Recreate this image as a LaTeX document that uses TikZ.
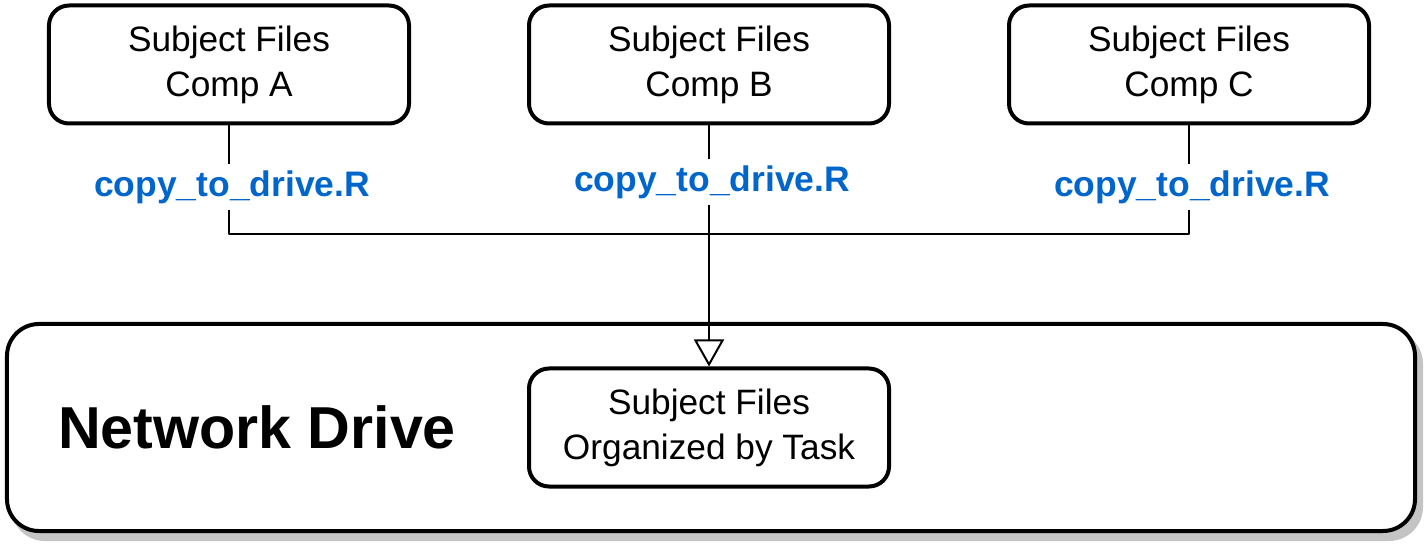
\documentclass[tikz,border=0pt]{standalone}
\usepackage{fontspec}
\setmainfont{Liberation Sans}
\usetikzlibrary{arrows.meta,shadows}
\definecolor{scriptblue}{HTML}{0066CC}
\definecolor{shadowgray}{HTML}{C4C4C4}

\begin{document}
\begin{tikzpicture}[x=0.5bp,y=-0.5bp,>={Triangle[open,length=13.5bp,width=15bp]},line join=round,
    filebox/.style={draw,rectangle,rounded corners=10bp,line width=2bp,fill=white,
      minimum width=180bp,minimum height=59bp,align=center,
      font=\fontsize{17.7}{22.5}\selectfont},
    drivebox/.style={draw,rectangle,rounded corners=16bp,line width=2bp,fill=white,
      minimum width=704bp,minimum height=103.5bp,
      drop shadow={shadow xshift=3bp,shadow yshift=-4bp,fill=shadowgray,draw=shadowgray,line width=2bp,opacity=1}},
    scriptlabel/.style={fill=white,inner sep=3bp,text=scriptblue,
      font=\bfseries\fontsize{17.8}{20}\selectfont},
    link/.style={line width=1bp},
  ]
    \useasboundingbox (0,0) rectangle (1425,546);
    %%
    \node (drive) at (711,427.5) [drivebox] {};
    \node (drivetitle) at (257,427) [font=\bfseries\fontsize{29.7}{34}\selectfont] {Network Drive};
    \node (compA) at (229,64.5) [filebox] {Subject Files\\Comp A};
    \node (compB) at (709,64.5) [filebox] {Subject Files\\Comp B};
    \node (compC) at (1189,64.5) [filebox] {Subject Files\\Comp C};
    \node (tasks) at (709,427.5) [filebox] {Subject Files\\Organized by Task};
    \coordinate (bus) at (709,234);
    \draw [link] (compA) |- (bus);
    \draw [link] (compC) |- (bus);
    \draw [link,->] (compB) -- (tasks);
    \node (scriptA) at (232,187) [scriptlabel] {copy\_to\_drive.R};
    \node (scriptB) at (712,182) [scriptlabel] {copy\_to\_drive.R};
    \node (scriptC) at (1192,187) [scriptlabel] {copy\_to\_drive.R};
    %
\end{tikzpicture}
\end{document}
